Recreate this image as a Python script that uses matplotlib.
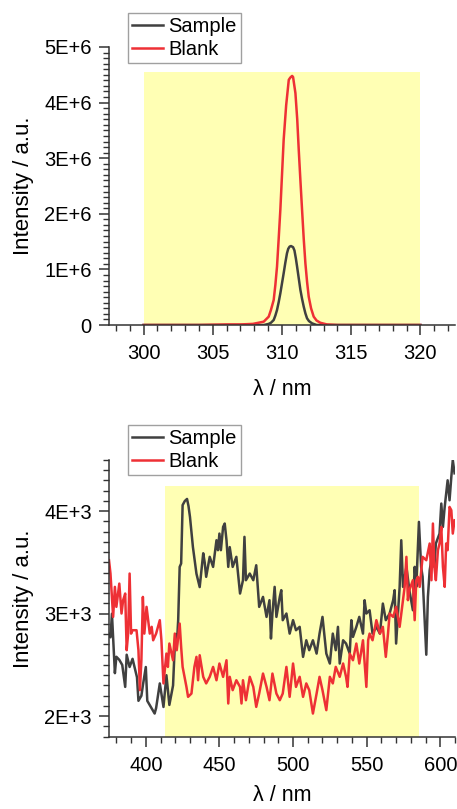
import matplotlib
matplotlib.use("Agg")
import matplotlib.pyplot as plt
from matplotlib.ticker import MultipleLocator
from matplotlib.patches import Rectangle

plt.rcParams['font.family'] = ['Liberation Sans', 'DejaVu Sans']

# ---------------- Top panel data (excitation) ----------------
top_blank_x = [300, 302, 304, 306, 307, 307.9, 308.68, 309.04, 309.2, 309.40, 309.52, 309.64,
               309.76, 309.88, 310.0, 310.12, 310.3, 310.49, 310.6, 310.73, 310.8, 310.97,
               311.1, 311.21, 311.33, 311.45, 311.57, 311.69, 311.81, 311.93, 312.1, 312.29,
               312.5, 312.77, 313.25, 314, 316, 318, 320]
top_blank_y = [0.0, 0.0, 0.0, 0.01e6, 0.01e6, 0.02e6, 0.06e6, 0.15e6, 0.27e6, 0.45e6, 0.72e6,
               1.05e6, 1.55e6, 2.07e6, 2.7e6, 3.33e6, 3.95e6, 4.41e6, 4.45e6, 4.48e6, 4.46e6,
               4.17e6, 3.7e6, 3.15e6, 2.6e6, 2.07e6, 1.55e6, 1.11e6, 0.78e6, 0.51e6, 0.3e6,
               0.15e6, 0.08e6, 0.04e6, 0.01e6, 0.0, 0.0, 0.0, 0.0]

top_sample_x = [300, 304, 308, 308.7, 309.04, 309.2, 309.40, 309.52, 309.64, 309.76, 309.88,
                310.0, 310.12, 310.24, 310.36, 310.45, 310.55, 310.65, 310.8, 310.9, 311.0,
                311.09, 311.21, 311.33, 311.45, 311.57, 311.69, 311.81, 311.95, 312.17,
                312.5, 314, 317, 320]
top_sample_y = [0.0, 0.0, 0.0, 0.0, 0.02e6, 0.04e6, 0.09e6, 0.17e6, 0.27e6, 0.41e6, 0.57e6,
                0.75e6, 0.93e6, 1.12e6, 1.29e6, 1.37e6, 1.41e6, 1.42e6, 1.40e6, 1.34e6, 1.2e6,
                1.05e6, 0.84e6, 0.63e6, 0.47e6, 0.33e6, 0.21e6, 0.12e6, 0.07e6, 0.03e6,
                0.0, 0.0, 0.0, 0.0]

top_xticks = [300, 305, 310, 315, 320]
top_yticks = [0, 1e6, 2e6, 3e6, 4e6, 5e6]
top_ytick_labels = ["0", "1E+6", "2E+6", "3E+6", "4E+6", "5E+6"]
top_band = (300, 320, 0, 4.55e6)   # x0, x1, y0, y1 of highlighted region

# ---------------- Bottom panel data (emission) ----------------
bot_sample_x = [375, 376, 377, 379, 380, 382, 384, 386, 387, 389, 391, 394, 395, 397, 398,
                400, 401, 403, 405, 406, 407, 409.5, 412, 414, 416, 418.5, 420, 421, 422,
                423, 424, 425, 426.5, 428, 429, 430, 432, 434.4, 436.6, 439, 440, 441,
                443.4, 445.7, 448, 449, 450, 451, 452.5, 453.6, 454.8, 456, 457, 459,
                461.5, 464, 466, 467, 468, 470.6, 473, 475, 477, 479.6, 482, 484, 485,
                486, 487.5, 488.7, 491, 492, 493, 495.5, 497.7, 500, 502, 504.5, 506.8,
                509, 511, 513.5, 516, 518, 520, 522.6, 525, 527, 529, 530.5, 531.7, 534,
                536, 538.5, 539.6, 540.7, 543, 545, 547.5, 548.6, 549.8, 552, 554, 556.6,
                559, 561, 563, 565.6, 568, 569, 570, 572.4, 573.5, 574.7, 577, 579,
                581.4, 582.6, 583.7, 585.5, 587, 588, 590.5, 591.6, 592.8, 595, 596, 597,
                599.5, 600.7, 601.8, 603, 605, 606.3, 607.5, 608.5, 609.7]
bot_sample_y = [2800, 2770, 3000, 2420, 2580, 2550, 2500, 2286, 2600, 2480, 2560, 2380, 2150,
                2200, 2300, 2480, 2150, 2100, 2050, 2026, 2080, 2320, 2090, 2400, 2110, 2300,
                2800, 2680, 2940, 3457, 3490, 4060, 4100, 4120, 4050, 3945, 3650, 3390, 3260,
                3590, 3500, 3360, 3555, 3457, 3717, 3620, 3782, 3620, 3847, 3880, 3717, 3457,
                3650, 3457, 3555, 3197, 3327, 3750, 3327, 3392, 3327, 3473, 3067, 3164, 2969,
                3132, 2758, 3002, 3262, 2969, 3164, 3230, 2937, 3002, 2806, 2937, 2839, 2872,
                2579, 2741, 2644, 2741, 2611, 2806, 2969, 2611, 2514, 2806, 2644, 2872, 2514,
                2741, 2709, 2611, 2937, 2774, 2872, 2969, 2806, 3132, 3002, 3034, 2806, 2872,
                2806, 3099, 2937, 3002, 3132, 3230, 2709, 3262, 3717, 3262, 3457, 3230, 3034,
                3457, 3262, 3896, 3457, 3360, 2600, 3164, 3424, 3620, 3457, 3685, 3782, 4075,
                3847, 4042, 4302, 4107, 4335, 4500, 4370]

bot_blank_x = [375, 376, 377.8, 379, 380, 382, 383.5, 384.6, 386, 387, 388, 389, 390, 391,
               393.7, 395, 396, 397, 398, 399, 400.5, 402.7, 404, 405, 407, 409.5, 410.6,
               412, 414, 415, 416, 418.5, 419.7, 421, 423, 424, 425, 427.6, 428.7, 431, 433,
               434.4, 435.5, 436.6, 439, 441, 443.4, 445.7, 448, 450, 452.5, 454.8, 456, 457,
               459, 461.5, 464, 465, 466, 468, 470.6, 473, 475, 477, 479.6, 482, 484, 486,
               488.7, 491, 493, 495.5, 497.7, 500, 502, 504.5, 506.8, 509, 511, 513.5, 516,
               518, 520, 522.6, 525, 527, 529, 531.7, 534, 536, 537, 538.5, 540.7, 543, 545,
               547.5, 549.8, 551, 552, 554, 556.6, 559, 561, 563, 564.5, 565.6, 568, 570,
               572.4, 574.7, 575.8, 577, 578, 579, 581.4, 582.6, 583.7, 584.8, 586, 588,
               590.5, 592.8, 594, 595, 596, 597, 598.4, 599.5, 600.7, 601.8, 603, 604, 605,
               606.3, 607.5, 608.5, 609.7]
bot_blank_y = [3522, 3392, 2969, 3262, 3067, 3294, 3002, 3132, 3197, 2644, 2806, 3392, 2806,
               2839, 2839, 2644, 2254, 2546, 3164, 2806, 3067, 2806, 2872, 2741, 2806, 2937,
               2741, 2320, 2611, 2481, 2709, 2546, 2806, 2644, 2904, 2676, 2481, 2286, 2189,
               2221, 2481, 2579, 2351, 2595, 2384, 2320, 2384, 2481, 2351, 2514, 2384, 2546,
               2124, 2384, 2254, 2351, 2286, 2124, 2351, 2156, 2384, 2286, 2091, 2221, 2416,
               2286, 2156, 2416, 2221, 2156, 2221, 2481, 2189, 2514, 2286, 2384, 2189, 2320,
               2254, 2026, 2221, 2384, 2254, 2059, 2384, 2320, 2481, 2384, 2514, 2384, 2286,
               2611, 2546, 2709, 2514, 2741, 2286, 2741, 2806, 2741, 2937, 2806, 2872, 2579,
               2806, 3002, 2969, 3067, 2872, 3132, 3262, 3555, 3132, 3230, 3327, 2937, 3327,
               3360, 3262, 3555, 3522, 3685, 3327, 3880, 3457, 3327, 3620, 3685, 3847, 3457,
               3262, 3685, 3620, 4042, 4010, 3782, 3912]

bot_xticks = [400, 450, 500, 550, 600]
bot_yticks = [2000, 3000, 4000]
bot_ytick_labels = ["2E+3", "3E+3", "4E+3"]
bot_band = (412.8, 585.7, 1800, 4250)

series_names = ["Sample", "Blank"]
c_sample = "#404040"
c_blank = "#ee3035"
c_band = "#ffffb4"
axis_color = "#333333"

W, H = 457, 809
fig = plt.figure(figsize=(W / 100, H / 100), dpi=100)

ax1 = fig.add_axes([109 / W, 1 - 325 / H, (455 - 109) / W, (325 - 47) / H])
ax2 = fig.add_axes([109 / W, 1 - 736.7 / H, (455 - 109) / W, (736.7 - 460) / H])

TICK_FS = 14.5
LAB_FS = 16
XLAB_FS = 15.5
LEG_FS = 14.5


def style(ax):
    for s in ["top", "right"]:
        ax.spines[s].set_visible(False)
    for s in ["left", "bottom"]:
        ax.spines[s].set_color(axis_color)
        ax.spines[s].set_linewidth(1.1)
    ax.tick_params(which="major", length=7, width=1.1, color=axis_color,
                   labelsize=TICK_FS, direction="out", pad=5.5)
    ax.tick_params(which="minor", length=4, width=1.0, color=axis_color, direction="out")
    ax.tick_params(axis="x", which="major", pad=7)


def legend(ax, handles, top_px):
    ax.legend(handles=handles, loc="upper left", bbox_to_anchor=(128 / W, 1 - top_px / H),
              bbox_transform=fig.transFigure, fontsize=LEG_FS, frameon=True, fancybox=False,
              edgecolor="#a0a0a0", framealpha=1, borderpad=0.2, handlelength=1.55,
              handletextpad=0.25, labelspacing=0.22, borderaxespad=0)


# top
style(ax1)
x0, x1, y0, y1 = top_band
ax1.add_patch(Rectangle((x0, y0), x1 - x0, y1 - y0, facecolor=c_band, edgecolor="none", zorder=0))
l1, = ax1.plot(top_sample_x, top_sample_y, color=c_sample, lw=1.8, label=series_names[0])
l2, = ax1.plot(top_blank_x, top_blank_y, color=c_blank, lw=1.8, label=series_names[1])
ax1.set_xlim(297.5, 322.5)
ax1.set_ylim(0, 5e6)
ax1.set_xticks(top_xticks)
ax1.xaxis.set_minor_locator(MultipleLocator(1))
ax1.set_yticks(top_yticks)
ax1.set_yticklabels(top_ytick_labels)
ax1.yaxis.set_minor_locator(MultipleLocator(1e5))
ax1.set_xlabel("λ / nm", fontsize=XLAB_FS, labelpad=11)
ax1.set_ylabel("Intensity / a.u.", fontsize=LAB_FS)
ax1.yaxis.set_label_coords(-0.218, 0.5)
legend(ax1, [l1, l2], 13)

# bottom
style(ax2)
x0, x1, y0, y1 = bot_band
ax2.add_patch(Rectangle((x0, y0), x1 - x0, y1 - y0, facecolor=c_band, edgecolor="none", zorder=0))
m1, = ax2.plot(bot_sample_x, bot_sample_y, color=c_sample, lw=1.8, label=series_names[0])
m2, = ax2.plot(bot_blank_x, bot_blank_y, color=c_blank, lw=1.8, label=series_names[1])
ax2.set_xlim(375, 610)
ax2.set_ylim(1800, 4500)
ax2.set_xticks(bot_xticks)
ax2.xaxis.set_minor_locator(MultipleLocator(10))
ax2.set_yticks(bot_yticks)
ax2.set_yticklabels(bot_ytick_labels)
ax2.yaxis.set_minor_locator(MultipleLocator(100))
ax2.set_xlabel("λ / nm", fontsize=XLAB_FS, labelpad=7)
ax2.set_ylabel("Intensity / a.u.", fontsize=LAB_FS)
ax2.yaxis.set_label_coords(-0.218, 0.5)
legend(ax2, [m1, m2], 425)

fig.savefig("out.png", dpi=100)
